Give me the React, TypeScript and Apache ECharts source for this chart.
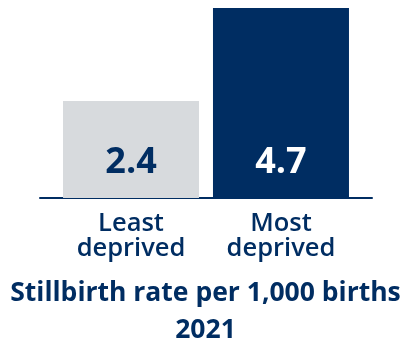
import React, { useEffect, useRef } from "react";
import * as echarts from "echarts";

const categories = ["Least\ndeprived", "Most\ndeprived"];
const values = [2.4, 4.7];
const barColors = ["#d7dadd", "#002d62"];
const labelColors = ["#002d62", "#ffffff"];
const titleLines = ["Stillbirth rate per 1,000 births", "2021"];

const NAVY = "#002d62";
const FONT = "'Open Sans', 'Noto Sans', sans-serif";

export default function App() {
  const ref = useRef<HTMLDivElement>(null);
  useEffect(() => {
    if (!ref.current) return;
    const chart = echarts.init(ref.current, null, { renderer: "svg" });
    const positions = categories.map((_, i) => i);
    chart.setOption({
      animation: false,
      title: titleLines.map((t, i) => ({
        text: t,
        left: "center",
        top: 276.5 + i * 37,
        padding: 0,
        textStyle: {
          fontFamily: FONT,
          fontSize: 26.5,
          fontWeight: "bold",
          color: NAVY,
          lineHeight: 28,
        },
      })),
      grid: { left: 40, right: 39, top: 8, bottom: 144, containLabel: false },
      xAxis: {
        type: "value",
        min: -0.607,
        max: 1.607,
        splitLine: { show: false },
        axisTick: { show: false },
        axisLine: { show: true, lineStyle: { color: NAVY, width: 2 } },
        axisLabel: {
          customValues: positions,
          formatter: (v: number) => categories[Math.round(v)] ?? "",
          fontFamily: FONT,
          fontSize: 25.5,
          fontWeight: 600,
          lineHeight: 25.5,
          color: NAVY,
          margin: 10,
        },
      },
      yAxis: {
        type: "value",
        min: 0,
        max: 4.7,
        show: false,
      },
      series: [
        {
          type: "bar",
          barWidth: 136,
          data: values.map((v, i) => ({
            value: [positions[i], v],
            itemStyle: { color: barColors[i] },
            label: { color: labelColors[i] },
          })),
          label: {
            show: true,
            position: "insideBottom",
            distance: 21,
            fontFamily: FONT,
            fontSize: 36,
            fontWeight: "bold",
            formatter: (p: any) => String(p.value[1]),
          },
        },
      ],
    });
    return () => chart.dispose();
  }, []);
  return (
    <div
      ref={ref}
      style={{ position: "fixed", left: 0, top: 0, width: 411, height: 342 }}
    />
  );
}
